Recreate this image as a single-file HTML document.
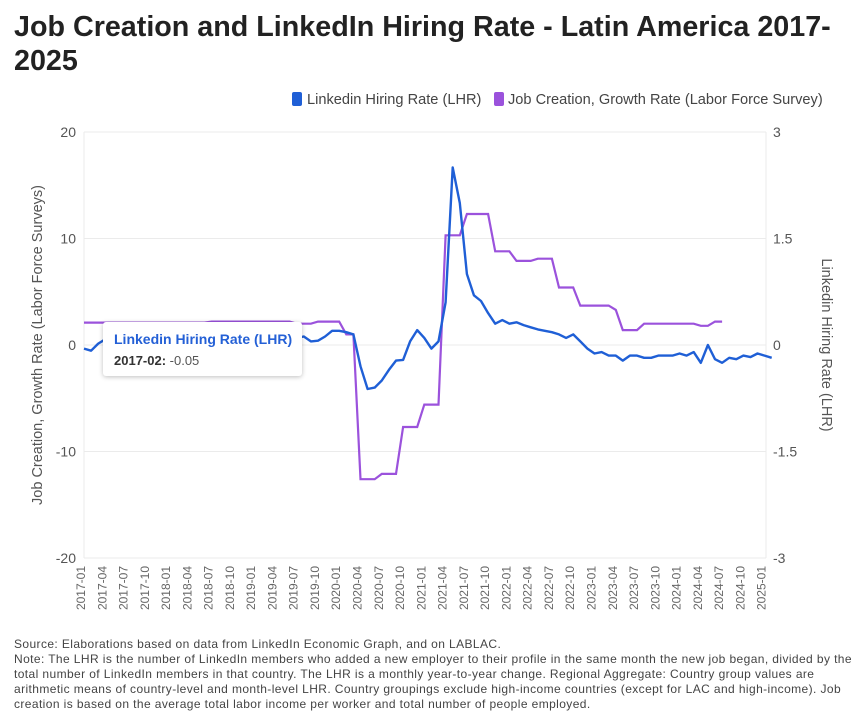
<!DOCTYPE html>
<html><head><meta charset="utf-8"><style>
body{margin:0;background:#fff;width:865px;height:723px;overflow:hidden;font-family:"Liberation Sans",sans-serif}
.t{position:absolute;left:14px;top:10px;font-size:28.7px;font-weight:bold;color:#222;line-height:34px;width:850px;white-space:nowrap}
.note{position:absolute;left:14px;top:637px;font-size:12px;letter-spacing:0.4px;color:#444;line-height:15px;width:840px}
.tip{position:absolute;left:103px;top:322px;width:199px;height:54px;background:#fff;box-shadow:0 1px 5px rgba(0,0,0,0.25);border-radius:3px}
</style></head><body>
<div class="t">Job Creation and LinkedIn Hiring Rate - Latin America 2017-<br>2025</div>
<svg id="c" width="865" height="723" style="position:absolute;left:0;top:0"></svg>
<div class="tip">
<div style="position:absolute;left:11px;top:9px;font-size:14px;font-weight:bold;color:#2460d6">Linkedin Hiring Rate (LHR)</div>
<div style="position:absolute;left:11px;top:31px;font-size:13px;color:#555"><b style="color:#333">2017-02:</b> -0.05</div>
</div>
<div class="note">Source: Elaborations based on data from LinkedIn Economic Graph, and on LABLAC.<br>Note: The LHR is the number of LinkedIn members who added a new employer to their profile in the same month the new job began, divided by the total number of LinkedIn members in that country. The LHR is a monthly year-to-year change. Regional Aggregate: Country group values are arithmetic means of country-level and month-level LHR. Country groupings exclude high-income countries (except for LAC and high-income). Job creation is based on the average total labor income per worker and total number of people employed.</div>
<script>
const leftTicks=[20,10,0,-10,-20];
const rightTicks=["3","1.5","0","-1.5","-3"];
const lhr=[-0.05,-0.08,0.02,0.08,0.06,0.03,0.04,0.05,0.06,0.05,0.04,0.05,
0.05,0.06,0.05,0.04,0.05,0.06,0.07,0.06,0.05,0.06,0.07,0.06,
0.06,0.07,0.08,0.06,0.05,0.07,0.1,0.12,0.05,0.06,0.12,0.2,
0.2,0.18,0.15,-0.3,-0.62,-0.6,-0.5,-0.35,-0.22,-0.21,0.05,0.21,0.1,-0.05,0.05,0.6,
2.5,2.0,1.0,0.7,0.62,0.45,0.3,0.35,0.3,0.32,0.28,0.25,0.22,0.2,0.18,0.15,0.1,0.15,0.05,-0.05,
-0.12,-0.1,-0.15,-0.15,-0.22,-0.15,-0.15,-0.18,-0.18,-0.15,-0.15,-0.15,-0.12,-0.15,-0.1,-0.25,0.0,-0.2,-0.25,-0.18,-0.2,-0.15,-0.17,-0.12,-0.15,-0.18];
const jobs=[2.1,2.1,2.1,2.1,2.1,2.1,2.1,2.1,2.1,2.1,2.1,2.1,2.1,2.1,2.1,2.1,2.1,2.1,
2.2,2.2,2.2,2.2,2.2,2.2,2.2,2.2,2.2,2.2,2.2,2.2,2.0,2.0,2.0,2.2,2.2,2.2,2.2,1.0,1.0,
-12.6,-12.6,-12.6,-12.1,-12.1,-12.1,-7.7,-7.7,-7.7,-5.6,-5.6,-5.6,10.3,10.3,10.3,12.3,12.3,12.3,12.3,
8.8,8.8,8.8,7.9,7.9,7.9,8.1,8.1,8.1,5.4,5.4,5.4,3.7,3.7,3.7,3.7,3.7,3.3,1.4,1.4,1.4,
2.0,2.0,2.0,2.0,2.0,2.0,2.0,2.0,1.8,1.8,2.2,2.2];
const xLabels=[];for(let y=2017;y<=2025;y++)for(const m of ["01","04","07","10"]){if(y==2025&&m!="01")break;xLabels.push(y+"-"+m);}
const X0=84,MW=7.09,Y0=345,YS=10.65;
const xm=m=>X0+m*MW, yl=v=>Y0-v*YS, yr=v=>Y0-v*YS*20/3;
const svg=document.getElementById('c'),NS="http://www.w3.org/2000/svg";
function mk(t,a,p){const e=document.createElementNS(NS,t);for(const k in a)e.setAttribute(k,a[k]);(p||svg).appendChild(e);return e;}
leftTicks.forEach((v,i)=>{const g=mk('line',{x1:X0,x2:766,y1:yl(v),y2:yl(v),stroke:'#ebebeb'});


const t=mk('text',{x:76,y:yl(v)+5,'text-anchor':'end','font-size':14,fill:'#555'});t.textContent=v;


const r=mk('text',{x:773,y:yl(v)+5,'font-size':14,fill:'#555'});r.textContent=rightTicks[i];

});
mk('line',{x1:X0,x2:X0,y1:132,y2:558,stroke:'#ebebeb'});
mk('line',{x1:766,x2:766,y1:132,y2:558,stroke:'#ebebeb'});
xLabels.forEach((s,i)=>{const x=xm(i*3)-3;const t=mk('text',{transform:`translate(${x+4},566) rotate(-90)`,'text-anchor':'end','font-size':12,fill:'#666'});t.textContent=s;

});
const p1=mk('path',{d:jobs.map((v,i)=>(i?'L':'M')+xm(i).toFixed(1)+' '+yl(v).toFixed(1)).join(''),fill:'none',stroke:'#9b52dc','stroke-width':2.2});


const p2=mk('path',{d:lhr.map((v,i)=>(i?'L':'M')+xm(i).toFixed(1)+' '+yr(v).toFixed(1)).join(''),fill:'none',stroke:'#1f5fd6','stroke-width':2.4,'stroke-linejoin':'round'});


const a1=mk('text',{transform:'translate(42,345) rotate(-90)','text-anchor':'middle','font-size':14.5,fill:'#555'});a1.textContent='Job Creation, Growth Rate (Labor Force Surveys)';


const a2=mk('text',{transform:'translate(822,345) rotate(90)','text-anchor':'middle','font-size':14.5,fill:'#555'});a2.textContent='Linkedin Hiring Rate (LHR)';


const l1=mk('rect',{x:292,y:92,width:10,height:14,rx:2,fill:'#1f5fd6'});


const lt1=mk('text',{x:307,y:104,'font-size':14.6,fill:'#444'});lt1.textContent='Linkedin Hiring Rate (LHR)';


const l2=mk('rect',{x:494,y:92,width:10,height:14,rx:2,fill:'#9b52dc'});


const lt2=mk('text',{x:508,y:104,'font-size':14.6,fill:'#444'});lt2.textContent='Job Creation, Growth Rate (Labor Force Survey)';


</script>
</body></html>
